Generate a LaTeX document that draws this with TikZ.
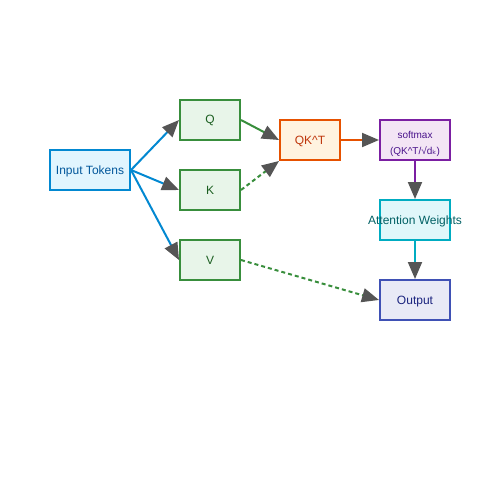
\documentclass[tikz,border=0pt]{standalone}
\usepackage{fontspec}
\setmainfont{Liberation Sans}
\newfontfamily\djv{DejaVu Sans}
\usetikzlibrary{arrows.meta}
\definecolor{inB}{HTML}{0288D1}\definecolor{inF}{HTML}{E1F5FE}\definecolor{inT}{HTML}{01579B}
\definecolor{gB}{HTML}{388E3C}\definecolor{gF}{HTML}{E8F5E9}\definecolor{gT}{HTML}{1B5E20}
\definecolor{oB}{HTML}{E65100}\definecolor{oF}{HTML}{FFF3E0}\definecolor{oT}{HTML}{BF360C}
\definecolor{pB}{HTML}{7B1FA2}\definecolor{pF}{HTML}{F3E5F5}\definecolor{pT}{HTML}{4A148C}
\definecolor{cB}{HTML}{00ACC1}\definecolor{cF}{HTML}{E0F7FA}\definecolor{cT}{HTML}{006064}
\definecolor{iB}{HTML}{3F51B5}\definecolor{iF}{HTML}{E8EAF6}\definecolor{iT}{HTML}{1A237E}
\definecolor{tipgray}{HTML}{555555}
\tikzset{
  box/.style={draw, line width=2pt, inner sep=0pt, minimum height=40pt, font=\fontsize{12}{14}\selectfont, align=center, text height=10pt, text depth=2pt},
  conn/.style={line width=2pt, -{Triangle[length=17pt,width=14pt,color=tipgray]}},
  dsh/.style={dash pattern=on 4pt off 3pt}
}
\begin{document}
\begin{tikzpicture}[x=1pt,y=-1pt]
\useasboundingbox (0,0) rectangle (500,500);
\node[box, draw=inB, fill=inF, text=inT, minimum width=80pt] (in) at (90,170) {Input Tokens};
\node[box, draw=gB, fill=gF, text=gT, minimum width=60pt] (q) at (210,120) {Q};
\node[box, draw=gB, fill=gF, text=gT, minimum width=60pt] (k) at (210,190) {K};
\node[box, draw=gB, fill=gF, text=gT, minimum width=60pt] (v) at (210,260) {V};
\node[box, draw=oB, fill=oF, text=oT, minimum width=60pt] (qkt) at (310,140) {QK\^{}T};
\node[box, draw=pB, fill=pF, text=pT, minimum width=70pt, font=\fontsize{10}{16}\selectfont, text height=29.5pt, text depth=0pt] (sm) at (415,140) {softmax\\(QK\^{}T/√d{\djv ₖ})};
\node[box, draw=cB, fill=cF, text=cT, minimum width=70pt] (aw) at (415,220) {\makebox[60pt][c]{Attention Weights}};
\node[box, draw=iB, fill=iF, text=iT, minimum width=70pt] (out) at (415,300) {Output};
\draw[conn, inB] (in.east) -- (q.west);
\draw[conn, inB] (in.east) -- (k.west);
\draw[conn, inB] (in.east) -- (v.west);
\draw[conn, gB] (q.east) -- (qkt.west);
\draw[conn, gB, dsh] (k.east) -- (qkt.south west);
\draw[conn, gB, dsh] (v.east) -- (out.west);
\draw[conn, oB] (qkt.east) -- (sm.west);
\draw[conn, pB] (sm.south) -- (aw.north);
\draw[conn, cB] (aw.south) -- (out.north);
\end{tikzpicture}
\end{document}
